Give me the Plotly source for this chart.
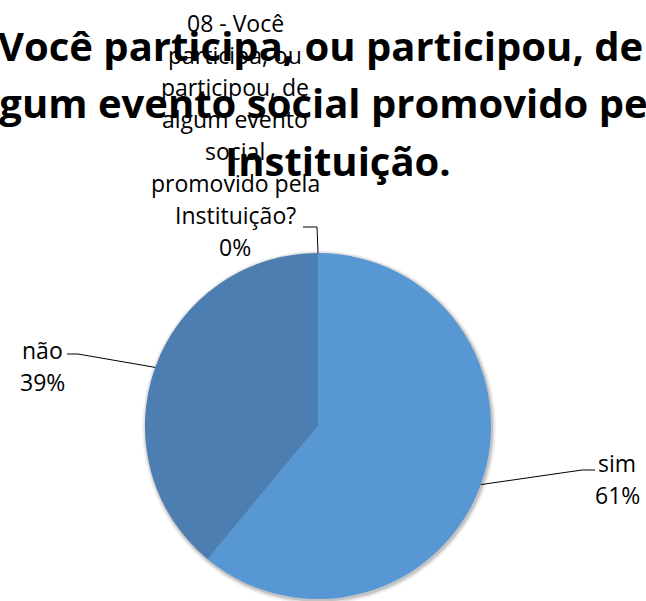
import math
import textwrap
import plotly.graph_objects as go

# ---- data ----
categories = [
    "08 - Você participa, ou participou, de algum evento social promovido pela Instituição?",
    "sim",
    "não",
]
values = [0, 61, 39]
title_lines = [
    "Você participa, ou participou, de",
    "algum evento social promovido pela",
    "Instituição.",
]

# ---- layout constants (pixels) ----
W, H = 646, 601
CX, CY, R = 318, 426, 173
colors = ["#6aa3da", "#5797d4", "#4c7eb1"]
FONT = "'Open Sans', Lato, sans-serif"


def px(x):
    return x / W


def py(y):
    return 1 - y / H


fig = go.Figure()
fig.add_trace(go.Pie(
    labels=categories,
    values=values,
    sort=False,
    direction="clockwise",
    rotation=0,
    marker=dict(colors=colors, line=dict(width=0)),
    textinfo="none",
    hoverinfo="label+percent",
    showlegend=False,
    domain=dict(x=[px(CX - R), px(CX + R)], y=[py(CY + R), py(CY - R)]),
))

annotations = []
# title lines
title_pos = [(320, 45), (323, 103), (338, 160)]
for line, (tx, ty) in zip(title_lines, title_pos):
    annotations.append(dict(
        x=px(tx), y=py(ty), xref="paper", yref="paper", text="<b>" + line + "</b>",
        showarrow=False, xanchor="center", yanchor="middle",
        font=dict(family=FONT, size=40, color="#000000"),
    ))

total = sum(values)
# label anchor text positions (center of first line) and leader line bends
label_layout = {
    0: dict(x=235, y=23, wrap=14, bend=(317, 227), start=(303, 227)),
    1: dict(x=617, y=463, wrap=20, bend=(582, 470), start=(595, 470)),
    2: dict(x=42, y=350, wrap=20, bend=(78, 354), start=(67, 354)),
}
LINE_H = 32

shapes = []
# soft shadow behind the pie
for d, a in [(4, 0.05), (2.5, 0.08), (1.2, 0.12)]:
    shapes.append(dict(
        type="circle", xref="paper", yref="paper", layer="below",
        x0=px(CX - R - d + 1), x1=px(CX + R + d + 1),
        y0=py(CY + R + d + 1.5), y1=py(CY - R - d + 1.5),
        fillcolor=f"rgba(0,0,0,{a})", line=dict(width=0),
    ))

cum = 0
for i, (cat, v) in enumerate(zip(categories, values)):
    frac = v / total
    mid = (cum + frac / 2) * 2 * math.pi
    cum += frac
    ex = CX + R * math.sin(mid)
    ey = CY - R * math.cos(mid)
    lay = label_layout[i]
    lines = textwrap.wrap(cat, lay["wrap"]) + [f"{round(frac * 100)}%"]
    for k, ln in enumerate(lines):
        annotations.append(dict(
            x=px(lay["x"]), y=py(lay["y"] + k * LINE_H), xref="paper", yref="paper",
            text=ln, showarrow=False, xanchor="center", yanchor="middle",
            font=dict(family=FONT, size=23, color="#000000"),
        ))
    sx, sy = lay["start"]
    bx, by = lay["bend"]
    shapes.append(dict(
        type="path", xref="paper", yref="paper",
        path=f"M {px(sx)} {py(sy)} L {px(bx)} {py(by)} L {px(ex)} {py(ey)}",
        line=dict(color="#000000", width=1),
    ))

fig.update_layout(
    width=W, height=H,
    margin=dict(l=0, r=0, t=0, b=0),
    paper_bgcolor="white", plot_bgcolor="white",
    annotations=annotations,
    shapes=shapes,
)

fig.write_html(
    "out.html",
    config={"displayModeBar": False},
    post_script="document.body.style.margin='0';document.body.style.overflow='hidden';",
)
